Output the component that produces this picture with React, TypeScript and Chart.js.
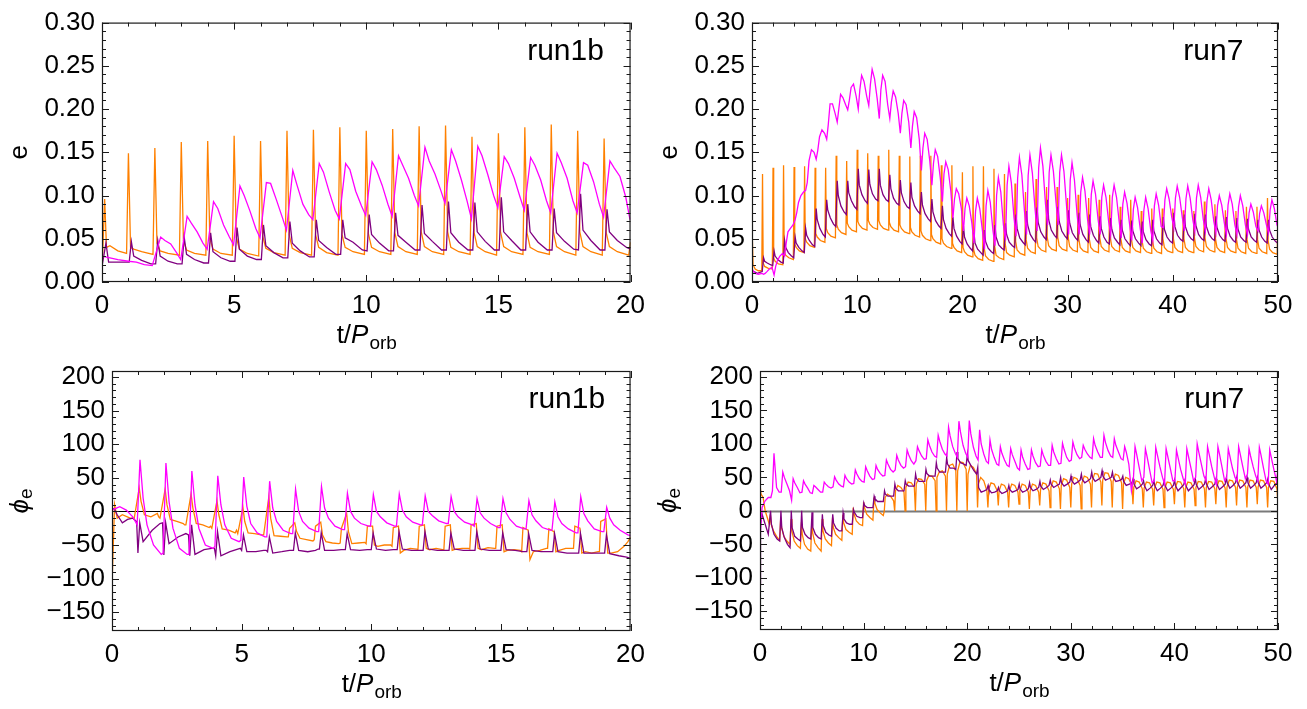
import React, { useEffect, useRef } from 'react';
import { Chart, registerables } from 'chart.js';
Chart.register(...registerables);

const ORANGE = '#ff8000';
const PURPLE = '#800080';
const MAGENTA = '#ff00ff';

// ---------- tick values ----------
const eMajor = [0, 0.05, 0.1, 0.15, 0.2, 0.25, 0.3];
const eMinor = [0.01, 0.02, 0.03, 0.04, 0.06, 0.07, 0.08, 0.09, 0.11, 0.12, 0.13, 0.14, 0.16, 0.17, 0.18, 0.19, 0.21, 0.22, 0.23, 0.24, 0.26, 0.27, 0.28, 0.29];
const phiMajor = [-150, -100, -50, 0, 50, 100, 150, 200];
const phiMinor = [-170, -160, -140, -130, -120, -110, -90, -80, -70, -60, -40, -30, -20, -10, 10, 20, 30, 40, 60, 70, 80, 90, 110, 120, 130, 140, 160, 170, 180, 190];
const t20Major = [0, 5, 10, 15, 20];
const t20Minor = [1, 2, 3, 4, 6, 7, 8, 9, 11, 12, 13, 14, 16, 17, 18, 19];
const t50Major = [0, 10, 20, 30, 40, 50];
const t50Minor = [2, 4, 6, 8, 12, 14, 16, 18, 22, 24, 26, 28, 32, 34, 36, 38, 42, 44, 46, 48];

// ---------- run1b : e ----------
const r1bE_orangeHead = [[0, 0.012], [0.1, 0.096], [0.17, 0.040], [0.3, 0.042], [0.6, 0.036], [0.93, 0.033]];
const r1bE_orangePhase = [0, 0.08, 0.2, 0.5, 0.93];
const r1bE_orangeRows = [
  [0.149, 0.040, 0.038, 0.035, 0.032], [0.155, 0.045, 0.036, 0.033, 0.031], [0.162, 0.048, 0.037, 0.033, 0.031],
  [0.163, 0.050, 0.038, 0.033, 0.031], [0.169, 0.052, 0.038, 0.033, 0.030], [0.163, 0.053, 0.039, 0.034, 0.031],
  [0.175, 0.055, 0.039, 0.034, 0.031], [0.176, 0.055, 0.040, 0.034, 0.031], [0.179, 0.055, 0.040, 0.035, 0.032],
  [0.175, 0.056, 0.040, 0.035, 0.032], [0.177, 0.057, 0.041, 0.035, 0.032], [0.180, 0.058, 0.041, 0.035, 0.032],
  [0.181, 0.058, 0.040, 0.035, 0.032], [0.168, 0.057, 0.041, 0.035, 0.031], [0.172, 0.058, 0.041, 0.035, 0.032],
  [0.179, 0.057, 0.040, 0.035, 0.032], [0.182, 0.058, 0.041, 0.035, 0.031], [0.175, 0.058, 0.041, 0.035, 0.031],
  [0.166, 0.057, 0.041, 0.035, 0.031],
];
const r1bE_orangeTail = [[20, 0.046]];

const r1bE_purpleHead = [[0, 0.018], [0.15, 0.045], [0.25, 0.023], [0.5, 0.023], [0.85, 0.023]];
const r1bE_purplePhase = [0.03, 0.11, 0.2, 0.5, 0.85];
const r1bE_purpleRows = [
  [0.023, 0.047, 0.030, 0.025, 0.021], [0.021, 0.048, 0.030, 0.024, 0.021], [0.021, 0.052, 0.032, 0.026, 0.022],
  [0.022, 0.057, 0.035, 0.028, 0.024], [0.024, 0.063, 0.038, 0.030, 0.026], [0.026, 0.066, 0.042, 0.034, 0.028],
  [0.028, 0.070, 0.045, 0.036, 0.029], [0.029, 0.072, 0.048, 0.040, 0.032], [0.032, 0.072, 0.051, 0.046, 0.037],
  [0.036, 0.078, 0.055, 0.045, 0.036], [0.036, 0.080, 0.054, 0.046, 0.037], [0.037, 0.089, 0.056, 0.047, 0.037],
  [0.037, 0.093, 0.057, 0.046, 0.037], [0.037, 0.092, 0.058, 0.047, 0.037], [0.037, 0.098, 0.058, 0.048, 0.037],
  [0.037, 0.090, 0.058, 0.046, 0.037], [0.037, 0.085, 0.057, 0.047, 0.038], [0.037, 0.102, 0.060, 0.048, 0.037],
  [0.037, 0.084, 0.058, 0.048, 0.040],
];
const r1bE_purpleTail = [[20, 0.038]];

const r1bE_magentaHead = [[0, 0.030], [0.3, 0.028], [0.6, 0.026], [1.0, 0.024], [1.3, 0.023], [1.6, 0.020], [1.9, 0.019]];
const r1bE_magentaPhase = [0.22, 0.38, 0.6, 0.82, 0.98];
const r1bE_magentaRows = [
  [0.052, 0.048, 0.044, 0.034, 0.026], [0.076, 0.068, 0.058, 0.045, 0.038], [0.093, 0.085, 0.066, 0.052, 0.043],
  [0.111, 0.100, 0.082, 0.062, 0.051], [0.115, 0.114, 0.095, 0.075, 0.060], [0.129, 0.112, 0.090, 0.078, 0.072],
  [0.137, 0.127, 0.104, 0.083, 0.073], [0.137, 0.130, 0.105, 0.088, 0.077], [0.139, 0.130, 0.112, 0.090, 0.076],
  [0.146, 0.135, 0.120, 0.100, 0.088], [0.156, 0.140, 0.125, 0.106, 0.091], [0.153, 0.140, 0.118, 0.093, 0.073],
  [0.157, 0.146, 0.124, 0.100, 0.086], [0.145, 0.137, 0.120, 0.098, 0.083], [0.144, 0.135, 0.118, 0.094, 0.080],
  [0.149, 0.138, 0.120, 0.094, 0.080], [0.138, 0.135, 0.116, 0.090, 0.075], [0.140, 0.132, 0.122, 0.098, 0.072],
];
const r1bE_magentaTail: number[][] = [];

// ---------- run7 : e ----------
const r7E_orangeHead = [[0, 0.065], [0.1, 0.020], [0.3, 0.015], [0.6, 0.013], [0.93, 0.013]];
const r7E_orangePhase = [0, 0.06, 0.2, 0.5, 0.93];
const r7E_orangeRows = [
  [0.125, 0.022, 0.018, 0.016, 0.015], [0.132, 0.028, 0.024, 0.021, 0.020], [0.135, 0.036, 0.031, 0.028, 0.026],
  [0.133, 0.044, 0.040, 0.036, 0.034], [0.134, 0.050, 0.046, 0.042, 0.040], [0.132, 0.056, 0.052, 0.048, 0.046],
  [0.132, 0.062, 0.057, 0.053, 0.051], [0.146, 0.066, 0.061, 0.057, 0.055], [0.140, 0.068, 0.064, 0.060, 0.058],
  [0.153, 0.070, 0.066, 0.062, 0.060], [0.149, 0.071, 0.067, 0.063, 0.061], [0.146, 0.071, 0.066, 0.062, 0.060],
  [0.153, 0.069, 0.064, 0.060, 0.058], [0.146, 0.066, 0.062, 0.058, 0.056], [0.145, 0.063, 0.058, 0.054, 0.052],
  [0.146, 0.059, 0.054, 0.050, 0.048], [0.146, 0.055, 0.050, 0.046, 0.044], [0.135, 0.050, 0.045, 0.041, 0.039],
  [0.135, 0.045, 0.040, 0.036, 0.034], [0.127, 0.040, 0.035, 0.031, 0.029], [0.134, 0.038, 0.031, 0.027, 0.025],
  [0.134, 0.040, 0.030, 0.026, 0.024], [0.131, 0.042, 0.031, 0.028, 0.026], [0.125, 0.045, 0.034, 0.031, 0.029],
  [0.114, 0.047, 0.037, 0.033, 0.031], [0.104, 0.049, 0.039, 0.035, 0.033], [0.119, 0.051, 0.041, 0.037, 0.035],
  [0.110, 0.052, 0.042, 0.038, 0.036], [0.110, 0.052, 0.042, 0.038, 0.036], [0.097, 0.051, 0.041, 0.037, 0.035],
  [0.101, 0.050, 0.040, 0.036, 0.034], [0.097, 0.050, 0.040, 0.036, 0.034], [0.095, 0.051, 0.041, 0.037, 0.035],
  [0.101, 0.051, 0.041, 0.037, 0.035], [0.087, 0.050, 0.040, 0.036, 0.034], [0.095, 0.050, 0.040, 0.036, 0.034],
  [0.082, 0.049, 0.039, 0.035, 0.033], [0.085, 0.049, 0.039, 0.035, 0.033], [0.085, 0.050, 0.040, 0.036, 0.034],
  [0.085, 0.050, 0.040, 0.036, 0.034], [0.083, 0.050, 0.040, 0.036, 0.034], [0.082, 0.051, 0.041, 0.037, 0.035],
  [0.093, 0.051, 0.041, 0.037, 0.035], [0.090, 0.050, 0.040, 0.036, 0.034], [0.083, 0.050, 0.040, 0.036, 0.034],
  [0.082, 0.049, 0.039, 0.035, 0.033], [0.087, 0.049, 0.039, 0.035, 0.033], [0.087, 0.049, 0.039, 0.035, 0.033],
  [0.097, 0.048, 0.038, 0.034, 0.032],
];
const r7E_orangeTail = [[50, 0.099]];

const r7E_purpleHead = [[0, 0.012], [0.2, 0.012], [0.5, 0.010], [0.97, 0.012]];
const r7E_purplePhase = [0.1, 0.2, 0.45, 0.75, 0.97];
const r7E_purpleRows = [
  [0.028, 0.024, 0.022, 0.020, 0.019], [0.036, 0.030, 0.026, 0.023, 0.022], [0.048, 0.040, 0.034, 0.030, 0.028],
  [0.052, 0.045, 0.040, 0.036, 0.034], [0.062, 0.054, 0.048, 0.043, 0.041], [0.085, 0.072, 0.062, 0.055, 0.052],
  [0.095, 0.083, 0.074, 0.067, 0.064], [0.117, 0.100, 0.088, 0.081, 0.078], [0.117, 0.103, 0.094, 0.087, 0.084],
  [0.131, 0.112, 0.101, 0.094, 0.091], [0.130, 0.113, 0.102, 0.096, 0.094], [0.131, 0.112, 0.101, 0.095, 0.093],
  [0.124, 0.108, 0.097, 0.091, 0.089], [0.118, 0.103, 0.093, 0.087, 0.085], [0.115, 0.098, 0.088, 0.082, 0.079],
  [0.104, 0.089, 0.079, 0.073, 0.070], [0.096, 0.081, 0.071, 0.065, 0.062], [0.088, 0.072, 0.062, 0.056, 0.053],
  [0.075, 0.062, 0.053, 0.047, 0.044], [0.065, 0.052, 0.044, 0.039, 0.036], [0.057, 0.045, 0.038, 0.034, 0.031],
  [0.060, 0.047, 0.039, 0.035, 0.033], [0.066, 0.052, 0.043, 0.039, 0.037], [0.068, 0.055, 0.046, 0.042, 0.040],
  [0.078, 0.062, 0.051, 0.046, 0.043], [0.082, 0.066, 0.055, 0.049, 0.046], [0.086, 0.069, 0.058, 0.052, 0.049],
  [0.095, 0.072, 0.060, 0.054, 0.051], [0.087, 0.070, 0.059, 0.053, 0.050], [0.083, 0.068, 0.057, 0.051, 0.048],
  [0.080, 0.066, 0.055, 0.049, 0.046], [0.078, 0.064, 0.054, 0.048, 0.045], [0.076, 0.062, 0.052, 0.046, 0.044],
  [0.074, 0.061, 0.051, 0.046, 0.043], [0.072, 0.060, 0.050, 0.045, 0.042], [0.071, 0.059, 0.050, 0.045, 0.042],
  [0.070, 0.058, 0.049, 0.044, 0.042], [0.072, 0.059, 0.050, 0.045, 0.043], [0.075, 0.061, 0.052, 0.047, 0.045],
  [0.080, 0.064, 0.054, 0.049, 0.047], [0.078, 0.064, 0.055, 0.050, 0.048], [0.079, 0.065, 0.055, 0.050, 0.048],
  [0.078, 0.064, 0.055, 0.050, 0.048], [0.076, 0.063, 0.054, 0.049, 0.047], [0.075, 0.062, 0.053, 0.048, 0.046],
  [0.074, 0.061, 0.052, 0.048, 0.046], [0.073, 0.061, 0.052, 0.048, 0.046], [0.072, 0.060, 0.052, 0.047, 0.045],
  [0.072, 0.060, 0.052, 0.047, 0.045],
];
const r7E_purpleTail = [[50, 0.048]];

const r7E_magentaHead = [[0, 0.015], [0.3, 0.010], [0.6, 0.009], [0.95, 0.010]];
const r7E_magentaPhase = [0.1, 0.25, 0.42, 0.65, 0.9];
const r7E_magentaRows = [
  [0.009, 0.010, 0.012, 0.015, 0.017], [0.008, 0.018, 0.025, 0.030, 0.033], [0.030, 0.045, 0.058, 0.062, 0.066],
  [0.072, 0.080, 0.092, 0.100, 0.104], [0.106, 0.115, 0.140, 0.153, 0.150], [0.142, 0.152, 0.168, 0.176, 0.172],
  [0.165, 0.182, 0.206, 0.206, 0.195], [0.185, 0.200, 0.217, 0.213, 0.205], [0.199, 0.210, 0.225, 0.229, 0.215],
  [0.200, 0.222, 0.239, 0.232, 0.215], [0.204, 0.228, 0.246, 0.235, 0.212], [0.189, 0.222, 0.239, 0.232, 0.205],
  [0.189, 0.208, 0.221, 0.214, 0.195], [0.172, 0.195, 0.210, 0.205, 0.185], [0.155, 0.180, 0.197, 0.190, 0.165],
  [0.129, 0.155, 0.172, 0.165, 0.140], [0.112, 0.137, 0.153, 0.145, 0.120], [0.093, 0.125, 0.139, 0.130, 0.105],
  [0.074, 0.096, 0.108, 0.102, 0.085], [0.059, 0.085, 0.097, 0.088, 0.068], [0.045, 0.082, 0.097, 0.085, 0.060],
  [0.038, 0.088, 0.106, 0.092, 0.060], [0.042, 0.100, 0.121, 0.104, 0.066], [0.048, 0.112, 0.134, 0.115, 0.075],
  [0.053, 0.120, 0.144, 0.124, 0.082], [0.055, 0.123, 0.147, 0.126, 0.085], [0.059, 0.132, 0.155, 0.134, 0.090],
  [0.066, 0.127, 0.147, 0.128, 0.092], [0.066, 0.127, 0.147, 0.128, 0.088], [0.055, 0.118, 0.138, 0.118, 0.078],
  [0.055, 0.104, 0.121, 0.105, 0.072], [0.055, 0.101, 0.117, 0.102, 0.072], [0.055, 0.098, 0.112, 0.098, 0.070],
  [0.055, 0.098, 0.112, 0.098, 0.070], [0.051, 0.090, 0.104, 0.091, 0.066], [0.048, 0.084, 0.098, 0.086, 0.062],
  [0.045, 0.083, 0.098, 0.085, 0.060], [0.048, 0.088, 0.102, 0.089, 0.064], [0.063, 0.095, 0.108, 0.096, 0.075],
  [0.063, 0.097, 0.111, 0.098, 0.075], [0.059, 0.096, 0.111, 0.097, 0.072], [0.059, 0.097, 0.112, 0.098, 0.072],
  [0.059, 0.094, 0.108, 0.095, 0.070], [0.057, 0.088, 0.100, 0.089, 0.068], [0.055, 0.089, 0.102, 0.090, 0.066],
  [0.055, 0.087, 0.100, 0.088, 0.066], [0.055, 0.080, 0.090, 0.081, 0.064], [0.059, 0.079, 0.088, 0.080, 0.066],
  [0.057, 0.083, 0.095, 0.085, 0.066],
];
const r7E_magentaTail = [[50, 0.063]];

// ---------- run1b : phi_e ----------
const r1bP_orangeHead = [[0, -110], [0.1, 10], [0.2, -10], [0.4, -5], [0.7, -10]];
const r1bP_orangePhase = [-0.2, -0.15, 0.05, 0.12, 0.25, 0.5, 0.75];
const r1bP_orangeRows = [
  [-10, -12, 35, 15, -5, -8, -3], [-8, -10, 33, 10, -12, -15, -18], [-20, -20, 26, 5, -18, -20, -24],
  [-22, -25, 16, -5, -26, -28, -32], [-28, -33, 6, -15, -32, -33, -35], [-35, -35, 22, -10, -36, -37, -38],
  [-38, -25, -17, -30, -40, -42, -44], [-42, -22, -16, -35, -45, -47, -48], [-47, -25, -3, -30, -48, -47, -46],
  [-48, -22, -22, -50, -52, -50, -50], [-52, -24, -22, -62, -58, -55, -56], [-57, -22, -20, -55, -57, -55, -57],
  [-57, -22, -20, -58, -56, -55, -55], [-56, -20, -18, -55, -57, -54, -55], [-55, -22, -20, -60, -58, -57, -58],
  [-60, -24, -28, -72, -60, -58, -55], [-55, -26, -30, -60, -58, -55, -55], [-55, -22, -25, -62, -60, -62, -60],
  [-60, -15, -11, -62, -62, -60, -52],
];
const r1bP_orangeTail = [[19.9, -45], [20, -38]];

const r1bP_purpleHead = [[0, 5], [0.1, 3], [0.2, -5], [0.4, -17], [0.6, -12], [0.8, -10]];
const r1bP_purplePhase = [-0.05, 0, 0.07, 0.2, 0.55, 0.85];
const r1bP_purpleRows = [
  [-15, -62, -17, -45, -28, -18], [-17, -65, -17, -48, -38, -33], [-35, -66, -20, -64, -57, -55],
  [-55, -66, -30, -66, -60, -56], [-55, -58, -35, -60, -60, -58], [-58, -60, -38, -62, -60, -58],
  [-58, -58, -32, -58, -60, -58], [-56, -56, -32, -58, -58, -57], [-57, -57, -33, -57, -58, -57],
  [-57, -57, -32, -56, -58, -57], [-57, -57, -30, -56, -58, -58], [-58, -58, -30, -56, -58, -58],
  [-58, -58, -32, -56, -58, -58], [-58, -58, -30, -56, -58, -58], [-58, -58, -32, -57, -58, -60],
  [-60, -60, -33, -58, -60, -60], [-60, -60, -33, -60, -62, -62], [-62, -62, -33, -62, -62, -62],
  [-62, -62, -35, -63, -66, -68],
];
const r1bP_purpleTail = [[20, -70]];

const r1bP_magentaHead = [[0, 2], [0.3, 7], [0.55, 2], [0.8, -8]];
const r1bP_magentaPhase = [-0.03, 0.08, 0.2, 0.35, 0.6, 0.9];
const r1bP_magentaRows = [
  [-20, 77, 20, -20, -50, -64], [-62, 72, 15, -25, -55, -64], [-64, 60, 10, -25, -50, -55],
  [-52, 53, 10, -20, -40, -45], [-43, 51, 8, -18, -32, -38], [-38, 45, 5, -15, -28, -33],
  [-33, 33, 0, -15, -25, -30], [-30, 37, 5, -10, -22, -27], [-27, 27, 0, -10, -18, -22],
  [-22, 25, 0, -8, -17, -22], [-22, 26, 2, -8, -16, -20], [-20, 23, 0, -6, -14, -18],
  [-18, 22, 0, -8, -16, -20], [-22, 19, -2, -10, -18, -24], [-24, 19, -2, -12, -22, -26],
  [-26, 16, -5, -14, -24, -28], [-28, 14, -8, -18, -26, -32], [-32, 22, -3, -14, -26, -30],
  [-30, 6, -10, -20, -28, -35],
];
const r1bP_magentaTail = [[20, -36]];

// ---------- run7 : phi_e ----------
const r7P_orangeHead = [[0, 40], [0.1, 25], [0.3, 20], [0.5, 0], [0.7, -10], [0.9, -20]];
const r7P_orangePhase = [0, 0.08, 0.3, 0.6, 0.9];
const r7P_orangeRows = [
  [-5, -20, -30, -38, -44], [-10, -25, -38, -45, -50], [-12, -30, -45, -52, -56], [-17, -35, -50, -57, -60],
  [-15, -33, -48, -55, -60], [-12, -30, -42, -48, -52], [-10, -25, -35, -40, -44], [-6, -18, -28, -32, -35],
  [5, -5, -15, -20, -22], [13, 5, -5, -10, -14], [20, 12, 2, -3, -7], [0, 20, 25, 22, 15],
  [0, 30, 38, 35, 28], [0, 35, 43, 42, 35], [0, 40, 48, 47, 40], [0, 45, 53, 52, 45],
  [0, 50, 58, 60, 52], [0, 55, 68, 70, 60], [0, 60, 73, 72, 62], [0, 55, 68, 65, 55],
  [5, 40, 50, 45, 30], [5, 32, 42, 40, 30], [8, 30, 40, 38, 28], [5, 30, 40, 38, 28],
  [10, 30, 40, 38, 28], [3, 30, 40, 38, 28], [8, 32, 42, 40, 30], [5, 35, 45, 43, 33],
  [3, 38, 48, 46, 35], [5, 40, 50, 48, 38], [3, 42, 52, 50, 40], [5, 45, 56, 55, 43],
  [8, 46, 57, 56, 44], [5, 44, 55, 53, 42], [3, 40, 50, 48, 38], [10, 35, 45, 43, 33],
  [5, 34, 43, 42, 32], [8, 34, 43, 42, 32], [5, 34, 43, 42, 32], [10, 34, 44, 43, 33],
  [5, 34, 43, 42, 32], [8, 35, 44, 43, 33], [5, 35, 44, 43, 33], [10, 35, 45, 44, 34],
  [5, 36, 46, 45, 35], [8, 36, 46, 45, 35], [5, 36, 46, 45, 35], [10, 36, 46, 45, 35],
  [5, 35, 45, 44, 33],
];
const r7P_orangeTail = [[50, 8]];

const r7P_purpleHead = [[0, -110], [0.05, -20], [0.2, -5], [0.5, -20], [0.8, -35]];
const r7P_purplePhase = [0.02, 0.1, 0.35, 0.65, 0.9];
const r7P_purpleRows = [
  [0, -20, -35, -42, -45], [0, -25, -40, -50, -55], [0, -25, -38, -42, -45], [0, -25, -35, -40, -42],
  [-2, -25, -35, -40, -42], [-5, -22, -32, -36, -38], [-5, -18, -26, -30, -30], [-3, -12, -18, -20, -20],
  [2, -2, -8, -10, -10], [12, 8, 5, 5, 5], [22, 18, 14, 14, 14], [30, 25, 22, 22, 22],
  [40, 34, 30, 30, 30], [45, 40, 37, 37, 37], [55, 48, 44, 44, 44], [62, 56, 52, 52, 52],
  [72, 64, 58, 58, 58], [80, 70, 64, 64, 62], [88, 78, 72, 70, 68], [85, 75, 68, 60, 55],
  [65, 35, 28, 30, 32], [38, 32, 27, 28, 30], [35, 30, 26, 28, 30], [38, 32, 28, 30, 32],
  [40, 33, 28, 30, 33], [42, 35, 30, 32, 35], [44, 37, 32, 35, 38], [46, 40, 35, 38, 40],
  [50, 42, 37, 40, 43], [52, 45, 40, 43, 46], [55, 47, 42, 45, 48], [58, 50, 44, 47, 50],
  [60, 52, 46, 48, 50], [58, 50, 44, 45, 47], [52, 44, 38, 40, 42], [48, 40, 33, 36, 40],
  [45, 38, 30, 34, 38], [45, 38, 30, 34, 38], [45, 38, 30, 34, 38], [46, 38, 30, 35, 39],
  [46, 38, 30, 35, 39], [48, 40, 32, 36, 40], [48, 40, 32, 36, 40], [48, 40, 32, 36, 40],
  [50, 42, 34, 38, 42], [50, 42, 34, 38, 42], [50, 42, 34, 38, 42], [50, 42, 34, 38, 42],
  [48, 40, 32, 38, 42],
];
const r7P_purpleTail = [[50, 45]];

const r7P_magentaHead = [[0, -40], [0.2, 5], [0.5, 15], [0.8, 20]];
const r7P_magentaPhase = [0.05, 0.2, 0.35, 0.6, 0.85];
const r7P_magentaRows = [
  [20, 30, 86, 35, 28], [28, 58, 50, 40, 30], [16, 48, 42, 35, 27], [28, 45, 40, 34, 27],
  [26, 38, 36, 32, 28], [28, 43, 40, 36, 34], [36, 51, 46, 40, 37], [36, 53, 48, 43, 40],
  [41, 61, 55, 48, 44], [43, 66, 60, 52, 47], [48, 68, 62, 56, 52], [53, 76, 70, 62, 58],
  [61, 83, 76, 68, 64], [66, 91, 84, 75, 70], [75, 96, 90, 82, 77], [78, 106, 98, 88, 82],
  [80, 113, 104, 92, 85], [82, 125, 112, 96, 86], [80, 134, 118, 98, 86], [80, 135, 115, 95, 82],
  [76, 121, 100, 85, 74], [71, 106, 92, 80, 70], [68, 96, 86, 76, 68], [66, 93, 84, 74, 64],
  [61, 91, 80, 70, 62], [63, 91, 82, 72, 66], [67, 91, 83, 74, 68], [68, 98, 88, 78, 70],
  [71, 101, 92, 80, 74], [76, 103, 94, 84, 78], [80, 98, 92, 85, 80], [78, 108, 98, 88, 80],
  [80, 113, 102, 90, 82], [80, 108, 98, 88, 78], [76, 96, 88, 70, 30], [50, 96, 85, 65, 45],
  [50, 93, 82, 62, 42], [45, 95, 84, 66, 50], [40, 93, 82, 64, 45], [45, 91, 80, 62, 48],
  [40, 93, 82, 64, 45], [50, 100, 88, 70, 52], [45, 96, 85, 66, 50], [40, 96, 85, 65, 45],
  [50, 93, 82, 64, 50], [45, 96, 85, 66, 48], [55, 93, 82, 66, 52], [45, 95, 84, 64, 45],
  [40, 91, 80, 62, 45],
];
const r7P_magentaTail = [[50, 60]];

// ---------- helpers ----------
type Pt = { x: number; y: number };
function build(head: number[][], phase: number[], rows: number[][], first: number, tail: number[][]): Pt[] {
  const pts: Pt[] = head.map(([x, y]) => ({ x, y }));
  rows.forEach((r, i) => r.forEach((v, k) => pts.push({ x: first + i + phase[k], y: v })));
  tail.forEach(([x, y]) => pts.push({ x, y }));
  return pts;
}

const FONT = '"Liberation Sans", Arial, sans-serif';
const TICK_SIZE = 26;

const framePlugin = {
  id: 'mmaFrame',
  beforeDatasetsDraw(chart: any, _a: any, o: any) {
    if (!o.zeroColor) return;
    const { ctx, chartArea: a, scales } = chart;
    const y = Math.round(scales.y.getPixelForValue(0)) + 0.5;
    ctx.save();
    ctx.strokeStyle = o.zeroColor;
    ctx.lineWidth = o.zeroWidth;
    ctx.beginPath();
    ctx.moveTo(a.left, y);
    ctx.lineTo(a.right, y);
    ctx.stroke();
    ctx.restore();
  },
  afterDatasetsDraw(chart: any, _a: any, o: any) {
    const { ctx, chartArea: a, scales } = chart;
    const xs = scales.x, ys = scales.y;
    ctx.save();
    ctx.strokeStyle = '#1a1a1a';
    ctx.lineWidth = 1;
    const tick = (vals: number[], len: number) => {
      vals.forEach((v) => {
        const x = Math.round(xs.getPixelForValue(v)) + 0.5;
        ctx.beginPath();
        ctx.moveTo(x, a.bottom); ctx.lineTo(x, a.bottom - len);
        ctx.moveTo(x, a.top); ctx.lineTo(x, a.top + len);
        ctx.stroke();
      });
    };
    const ytick = (vals: number[], len: number) => {
      vals.forEach((v) => {
        const y = Math.round(ys.getPixelForValue(v)) + 0.5;
        ctx.beginPath();
        ctx.moveTo(a.left, y); ctx.lineTo(a.left + len, y);
        ctx.moveTo(a.right, y); ctx.lineTo(a.right - len, y);
        ctx.stroke();
      });
    };
    tick(o.xMajor, 7); tick(o.xMinor, 4);
    ytick(o.yMajor, 7); ytick(o.yMinor, 4);
    ctx.lineWidth = 1.2;
    ctx.strokeRect(a.left + 0.5, a.top + 0.5, a.right - a.left - 1, a.bottom - a.top - 1);

    // run label, centred at a fixed fraction of the frame width
    ctx.fillStyle = '#000';
    ctx.font = `${o.runSize}px ${FONT}`;
    ctx.textAlign = 'center';
    ctx.textBaseline = 'alphabetic';
    ctx.fillText(o.run, a.left + o.runFrac * (a.right - a.left), a.top + o.runDy);

    // x title: t/P_orb
    const big = `${o.titleSize}px ${FONT}`;
    const bigI = `italic ${o.titleSize}px ${FONT}`;
    const sub = `${o.subSize}px ${FONT}`;
    ctx.font = big; const w1 = ctx.measureText('t/').width;
    ctx.font = bigI; const w2 = ctx.measureText('P').width;
    ctx.font = sub; const w3 = ctx.measureText('orb').width;
    let x0 = (a.left + a.right) / 2 - (w1 + w2 + w3) / 2;
    const yb = a.bottom + o.xTitleDy;
    ctx.textAlign = 'left';
    ctx.font = big; ctx.fillText('t/', x0, yb); x0 += w1;
    ctx.font = bigI; ctx.fillText('P', x0, yb); x0 += w2 + 1;
    ctx.font = sub; ctx.fillText('orb', x0, yb + 6);

    // y title
    ctx.translate(a.left - o.yTitleDx, (a.top + a.bottom) / 2);
    ctx.rotate(-Math.PI / 2);
    ctx.textBaseline = 'middle';
    if (o.yTitle === 'e') {
      ctx.font = big; ctx.textAlign = 'center';
      ctx.fillText('e', 0, 0);
    } else {
      ctx.font = bigI; const p = ctx.measureText('\u03D5').width;
      ctx.font = sub; const s = ctx.measureText('e').width;
      const start = -(p + s) / 2;
      ctx.textAlign = 'left';
      ctx.font = bigI; ctx.fillText('\u03D5', start, 0);
      ctx.font = sub; ctx.fillText('e', start + p, 6);
    }
    ctx.restore();
  },
};

type PanelCfg = {
  left: number; top: number; width: number; height: number;
  area: { left: number; top: number; right: number; bottom: number };
  xMax: number; yMin: number; yMax: number;
  xMajor: number[]; xMinor: number[]; yMajor: number[]; yMinor: number[];
  yFmt: (v: number) => string;
  run: string; yTitle: string; zeroColor?: string; zeroWidth?: number;
  series: Pt[][];
};

const fmtE = (v: number) => v.toFixed(2);
const fmtPhi = (v: number) => (v < 0 ? '\u2212' + Math.abs(v) : String(v));
const colors = [ORANGE, PURPLE, MAGENTA];

const panels: PanelCfg[] = [
  {
    left: 0, top: 0, width: 653, height: 365,
    area: { left: 102, top: 17, right: 632, bottom: 282 },
    xMax: 20, yMin: 0, yMax: 0.3, xMajor: t20Major, xMinor: t20Minor, yMajor: eMajor, yMinor: eMinor,
    yFmt: fmtE, run: 'run1b', yTitle: 'e',
    series: [
      build(r1bE_orangeHead, r1bE_orangePhase, r1bE_orangeRows, 1, r1bE_orangeTail),
      build(r1bE_purpleHead, r1bE_purplePhase, r1bE_purpleRows, 1, r1bE_purpleTail),
      build(r1bE_magentaHead, r1bE_magentaPhase, r1bE_magentaRows, 2, r1bE_magentaTail),
    ],
  },
  {
    left: 653, top: 0, width: 654, height: 365,
    area: { left: 99, top: 17, right: 625, bottom: 282 },
    xMax: 50, yMin: 0, yMax: 0.3, xMajor: t50Major, xMinor: t50Minor, yMajor: eMajor, yMinor: eMinor,
    yFmt: fmtE, run: 'run7', yTitle: 'e',
    series: [
      build(r7E_orangeHead, r7E_orangePhase, r7E_orangeRows, 1, r7E_orangeTail),
      build(r7E_purpleHead, r7E_purplePhase, r7E_purpleRows, 1, r7E_purpleTail),
      build(r7E_magentaHead, r7E_magentaPhase, r7E_magentaRows, 1, r7E_magentaTail),
    ],
  },
  {
    left: 0, top: 335, width: 653, height: 374,
    area: { left: 112, top: 36, right: 632, bottom: 296 },
    xMax: 20, yMin: -178, yMax: 209, xMajor: t20Major, xMinor: t20Minor, yMajor: phiMajor, yMinor: phiMinor,
    yFmt: fmtPhi, run: 'run1b', yTitle: 'phi', zeroColor: '#000', zeroWidth: 1,
    series: [
      build(r1bP_orangeHead, r1bP_orangePhase, r1bP_orangeRows, 1, r1bP_orangeTail),
      build(r1bP_purpleHead, r1bP_purplePhase, r1bP_purpleRows, 1, r1bP_purpleTail),
      build(r1bP_magentaHead, r1bP_magentaPhase, r1bP_magentaRows, 1, r1bP_magentaTail),
    ],
  },
  {
    left: 653, top: 335, width: 654, height: 374,
    area: { left: 107, top: 36, right: 625, bottom: 295 },
    xMax: 50, yMin: -178, yMax: 209, xMajor: t50Major, xMinor: t50Minor, yMajor: phiMajor, yMinor: phiMinor,
    yFmt: fmtPhi, run: 'run7', yTitle: 'phi', zeroColor: '#7a7a7a', zeroWidth: 2,
    series: [
      build(r7P_orangeHead, r7P_orangePhase, r7P_orangeRows, 1, r7P_orangeTail),
      build(r7P_purpleHead, r7P_purplePhase, r7P_purpleRows, 1, r7P_purpleTail),
      build(r7P_magentaHead, r7P_magentaPhase, r7P_magentaRows, 1, r7P_magentaTail),
    ],
  },
];

function Panel({ cfg }: { cfg: PanelCfg }) {
  const ref = useRef<HTMLCanvasElement>(null);
  useEffect(() => {
    if (!ref.current) return;
    const a = cfg.area;
    const order = [2, 1, 0];
    const chart = new Chart(ref.current, {
      type: 'line',
      data: {
        datasets: order.map((i) => ({
          data: cfg.series[i],
          borderColor: colors[i],
          borderWidth: 1.3,
          pointRadius: 0,
          fill: false,
          tension: 0,
        })),
      },
      options: {
        animation: false,
        responsive: false,
        maintainAspectRatio: false,
        parsing: false as any,
        normalized: true,
        layout: { padding: { left: 0, top: a.top, right: cfg.width - a.right, bottom: 0 } },
        plugins: {
          legend: { display: false },
          tooltip: { enabled: false },
          mmaFrame: {
            xMajor: cfg.xMajor, xMinor: cfg.xMinor, yMajor: cfg.yMajor, yMinor: cfg.yMinor,
            run: cfg.run, runSize: 30, runFrac: 0.877, runDy: 37,
            titleSize: 26, subSize: 19, xTitleDy: 61, yTitle: cfg.yTitle,
            yTitleDx: cfg.yTitle === 'e' ? 82 : 91,
            zeroColor: cfg.zeroColor, zeroWidth: cfg.zeroWidth,
          },
        } as any,
        scales: {
          x: {
            type: 'linear', min: 0, max: cfg.xMax,
            grid: { display: false, drawTicks: false },
            border: { display: false },
            afterBuildTicks: (s: any) => { s.ticks = cfg.xMajor.map((v) => ({ value: v })); },
            afterFit: (s: any) => { s.height = cfg.height - a.bottom; },
            ticks: {
              padding: 8, color: '#000', maxRotation: 0, autoSkip: false,
              font: { family: FONT, size: TICK_SIZE },
              callback: (v: any) => String(v),
            },
          },
          y: {
            type: 'linear', min: cfg.yMin, max: cfg.yMax,
            grid: { display: false, drawTicks: false },
            border: { display: false },
            afterBuildTicks: (s: any) => { s.ticks = cfg.yMajor.map((v) => ({ value: v })); },
            afterFit: (s: any) => { s.width = a.left; },
            ticks: {
              padding: 7, color: '#000', autoSkip: false,
              font: { family: FONT, size: TICK_SIZE },
              callback: (v: any) => cfg.yFmt(Number(v)),
            },
          },
        },
      },
      plugins: [framePlugin],
    });
    return () => chart.destroy();
  }, [cfg]);
  return (
    <canvas
      ref={ref}
      width={cfg.width}
      height={cfg.height}
      style={{ position: 'absolute', left: cfg.left, top: cfg.top, width: cfg.width, height: cfg.height }}
    />
  );
}

export default function App() {
  return (
    <div style={{ position: 'absolute', left: 0, top: 0, width: 1307, height: 709, background: '#fff', overflow: 'hidden' }}>
      {panels.map((p, i) => (
        <Panel key={i} cfg={p} />
      ))}
    </div>
  );
}
